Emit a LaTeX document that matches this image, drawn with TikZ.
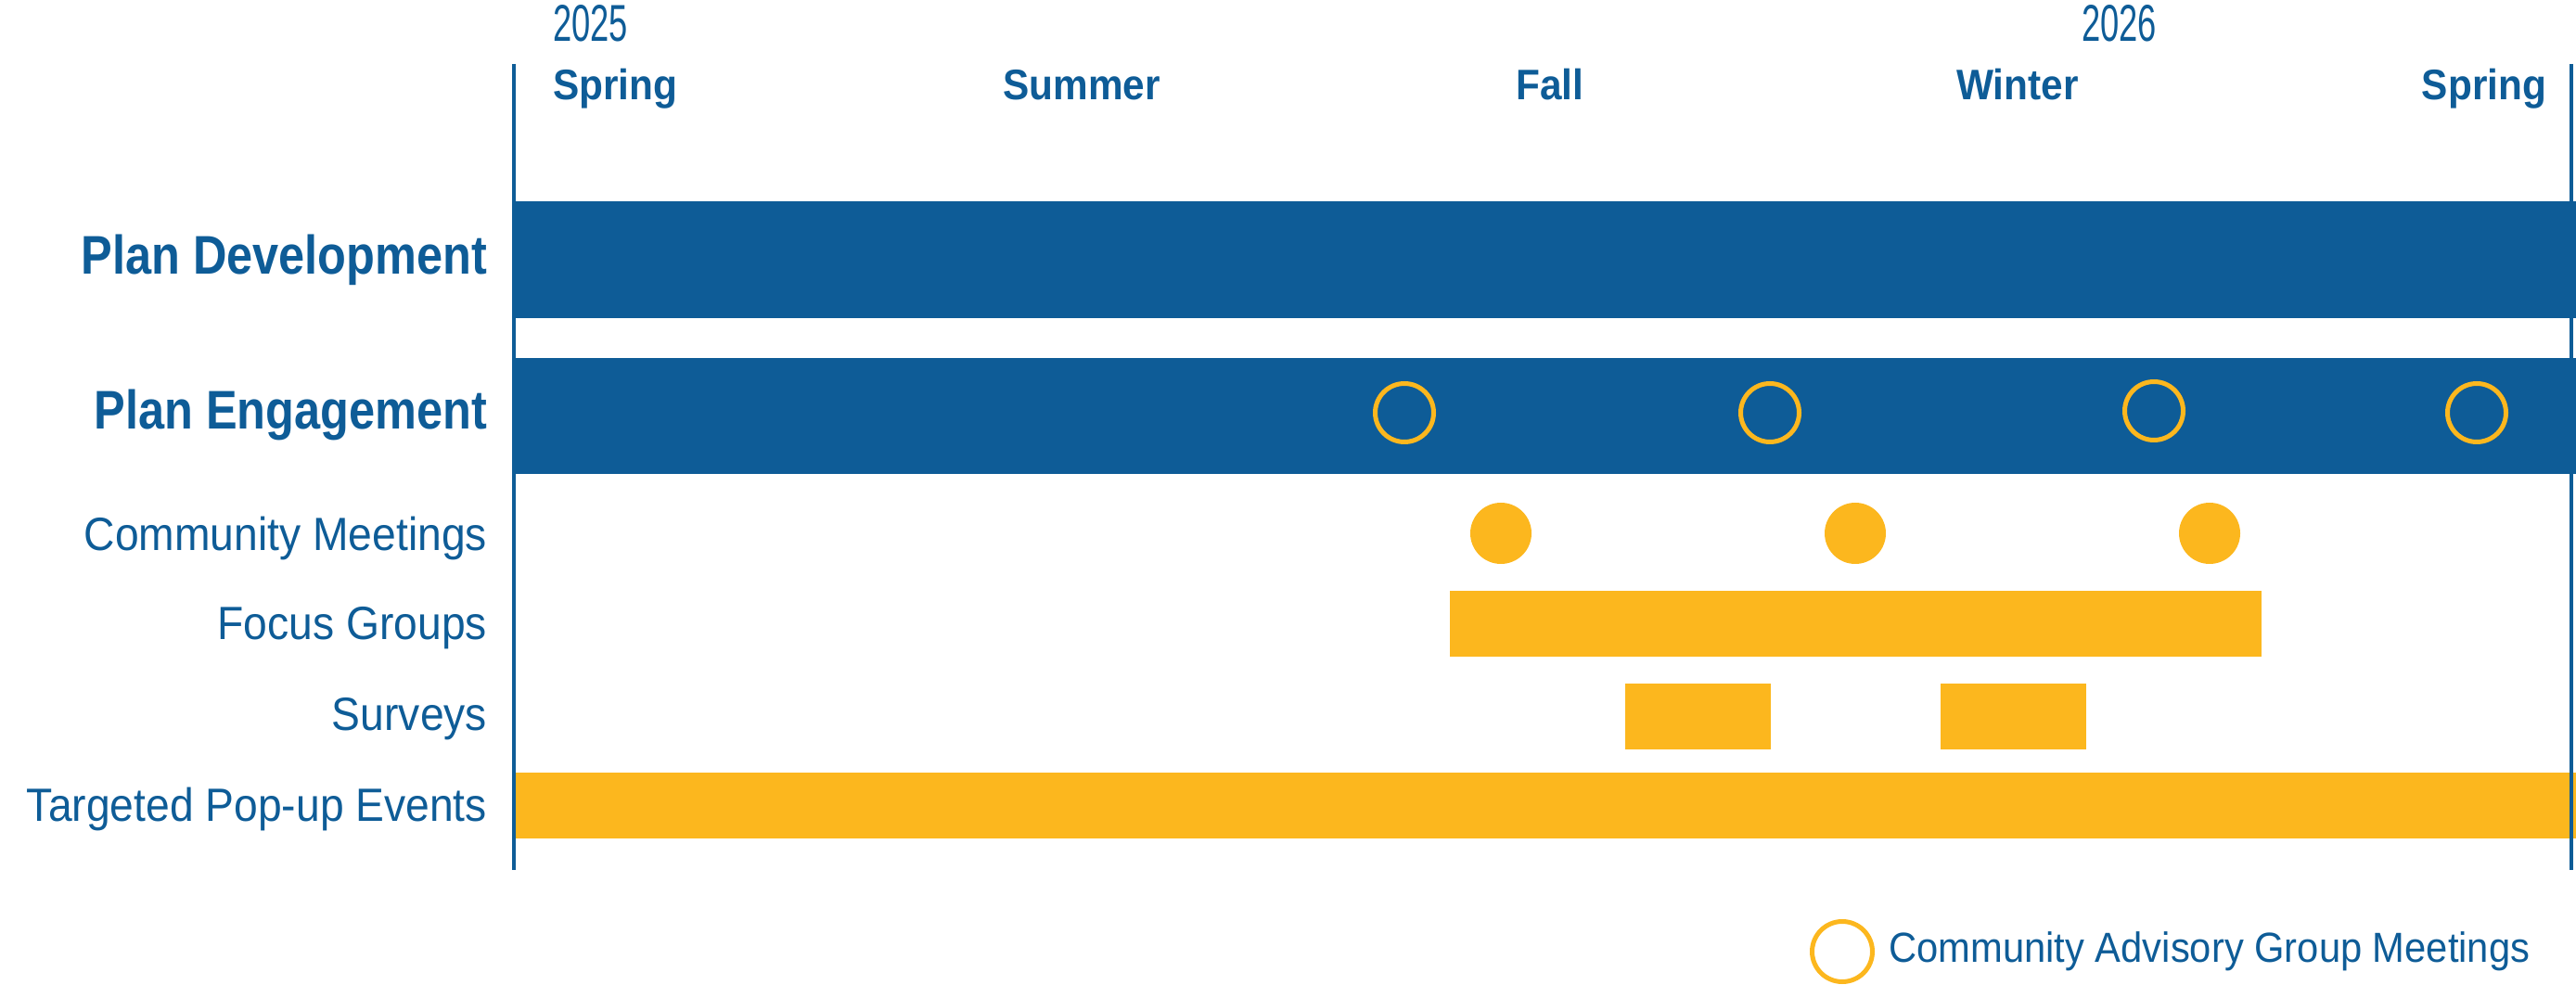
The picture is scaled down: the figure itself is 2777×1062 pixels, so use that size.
\documentclass[tikz,border=0pt]{standalone}
\usepackage{fontspec}
\setmainfont{Liberation Sans}[FakeStretch=0.92]
\newfontfamily\headfont{Liberation Sans}[FakeStretch=0.86]
\newfontfamily\yearfont{Liberation Sans}[FakeStretch=0.65]
\usepackage{tikz}
\usetikzlibrary{positioning}
\definecolor{planblue}{HTML}{0E5C97}
\definecolor{planyellow}{HTML}{FCB71E}

\begin{document}
\begin{tikzpicture}[
    x=0.1mm, y=-0.1mm,
    every node/.style={inner sep=0pt, outer sep=0pt, text=planblue},
    head_label/.style={anchor=base east, font=\headfont\bfseries\fontsize{16.7}{20}\selectfont},
    task_label/.style={anchor=base east, font=\fontsize{14.3}{17}\selectfont},
    season_label/.style={anchor=base, font=\bfseries\fontsize{13.1}{16}\selectfont},
    year_label/.style={anchor=base west, font=\yearfont\fontsize{15.9}{18}\selectfont},
    key_label/.style={font=\fontsize{12.9}{15}\selectfont},
    blue_bar/.style={fill=planblue},
    yellow_bar/.style={fill=planyellow},
    cag_ring/.style={circle, draw=planyellow, line width=0.5mm, minimum size=6.3mm},
    meet_dot/.style={circle, fill=planyellow, minimum size=6.6mm},
    axis_line/.style={draw=planblue, line width=0.35mm}
]
\useasboundingbox (0,0) rectangle (2777,1062);

% --- TIME AXIS ---
\node[year_label] (y2025) at (596,45) {2025};
\node[year_label] (y2026) at (2244,45) {2026};

\node[season_label, anchor=base west] (spring_a) at (596,108) {Spring};
\node[season_label] (summer) at (1166,108) {Summer};
\node[season_label] (fall) at (1671,108) {Fall};
\node[season_label] (winter) at (2175,108) {Winter};
\node[season_label, anchor=base east] (spring_b) at (2745,108) {Spring};

% --- BARS ---
\fill[blue_bar] (554,217) rectangle (2777,343);   % plan development
\fill[blue_bar] (554,386) rectangle (2777,511);   % plan engagement
\fill[yellow_bar] (1563,637) rectangle (2438,708); % focus groups
\fill[yellow_bar] (1752,737) rectangle (1909,808); % surveys
\fill[yellow_bar] (2092,737) rectangle (2249,808);
\fill[yellow_bar] (554,833) rectangle (2777,904);  % pop-up events

% frame lines
\draw[axis_line] (554,69) -- (554,938);
\draw[axis_line] (2772,69) -- (2772,938);

% --- ROW LABELS ---
\node[head_label] (dev) at (525,296) {Plan Development};
\node[head_label] (eng) at (525,463) {Plan Engagement};
\node[task_label] (comm) at (525,594) {Community Meetings};
\node[task_label] (focus) at (525,690) {Focus Groups};
\node[task_label] (surv) at (525,788) {Surveys};
\node[task_label] (popup) at (525,885) {Targeted Pop-up Events};

% --- MEETINGS ---
% advisory group
\node[cag_ring] (cag_a) at (1514,445) {};
\node[cag_ring] (cag_b) at (1908,445) {};
\node[cag_ring] (cag_c) at (2322,443) {};
\node[cag_ring] (cag_d) at (2670,445) {};

% community meetings
\node[meet_dot] (meet_a) at (1618,575) {};
\node[meet_dot] (meet_b) at (2000,575) {};
\node[meet_dot] (meet_c) at (2382,575) {};

% --- LEGEND ---
\node[cag_ring, minimum size=6.5mm] (cag_key) at (1986,1026) {};
\node[key_label, right=1.8mm of cag_key] (key_text) {Community Advisory Group Meetings};

\end{tikzpicture}
\end{document}
